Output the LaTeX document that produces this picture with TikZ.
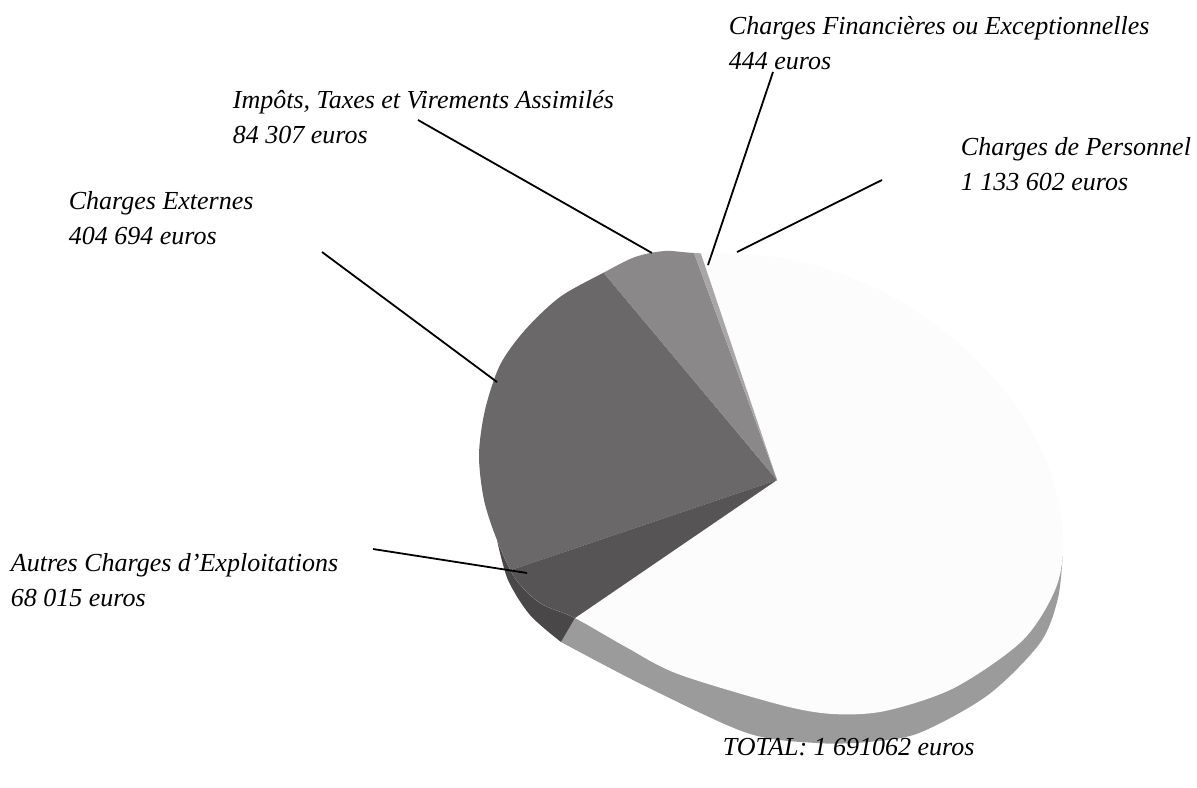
\documentclass[tikz,border=0pt]{standalone}
\usepackage{fontspec}
\setmainfont{Liberation Serif}
\usetikzlibrary{calc}
\definecolor{ext}{HTML}{6B686A}
\definecolor{imp}{HTML}{8A8889}
\definecolor{fin}{HTML}{A8A6A7}
\definecolor{aut}{HTML}{575456}
\definecolor{pers}{HTML}{FCFCFC}
\definecolor{side}{HTML}{9C9B9C}
\tikzset{lbl/.style={anchor=west, align=left, inner sep=0pt, font=\itshape\fontsize{13}{17.5}\selectfont}}

\begin{document}
\begin{tikzpicture}[x=0.5pt, y=-0.5pt, line width=0.9pt]
	\useasboundingbox (0,0) rectangle (1197,787);
	\coordinate (c) at (777,480);
	\coordinate (e1) at (505,572);
	\coordinate (e2) at (603,272);
	\coordinate (e3) at (694,253);
	\coordinate (e4) at (701,254);
	\coordinate (e5) at (575,618);
	
	% side of the pie
	\fill[side] (575,618) -- plot[smooth] coordinates {(561,642) (643,685) (747,733) (816,743) (868,742) (919,733) (988,695) (1040,643) (1058,598) (1063,550)} -- cycle;
	\fill[aut!85!black] plot[smooth] coordinates {(497,540) (508,580) (530,615) (561,642)} -- (575,618) -- cycle;
	
	% top of the pie
	\begin{scope}
		\clip plot[smooth cycle] coordinates {(694,253) (665,251) (635,257) (603,273) (560,297) (525,330) (500,365) (485,410) (479,455) (484,500) (497,540) (515,578) (540,603) (575,618) (626,647) (678,674) (781,705) (833,714) (885,711) (954,688) (1023,640) (1057,585) (1063,530) (1048,465) (1012,400) (955,340) (880,290) (790,259)};
		\fill[pers] (0,0) rectangle (1197,787);
		\fill[ext] (c) -- ($(c)!2!(e1)$) -- ($(c)!2!(e2)$) -- cycle;
		\fill[imp] (c) -- ($(c)!2!(e2)$) -- ($(c)!2!(e3)$) -- cycle;
		\fill[fin] (c) -- ($(c)!2!(e3)$) -- ($(c)!2!(e4)$) -- cycle;
		\fill[aut] (c) -- ($(c)!2!(e5)$) -- ($(c)!2!(e1)$) -- cycle;
	\end{scope}
	
	\node[lbl] (imp) at (232,117.5) {Impôts, Taxes et Virements Assimilés\\84 307 euros};
	\node[lbl] (fin) at (728,43.5) {Charges Financières ou Exceptionnelles\\444 euros};
	\node[lbl] (pers) at (960,164.5) {Charges de Personnel\\1 133 602 euros};
	\node[lbl] (ext) at (68,218) {Charges Externes\\404 694 euros};
	\node[lbl] (aut) at (10,580.5) {Autres Charges d’Exploitations\\68 015 euros};
	\node[lbl] (total) at (722,747) {TOTAL: 1 691062 euros};
	
	\coordinate (impA) at (418,120);  \coordinate (impB) at (652,253);
	\coordinate (finA) at (773,72);   \coordinate (finB) at (708,265);
	\coordinate (persA) at (882,180); \coordinate (persB) at (737,252);
	\coordinate (extA) at (322,252);  \coordinate (extB) at (497,382);
	\coordinate (autA) at (373,549);  \coordinate (autB) at (527,573);
	\foreach \a/\b in {impA/impB, finA/finB, persA/persB, extA/extB, autA/autB}{
		\draw (\a) -- (\b);
	}
\end{tikzpicture}
\end{document}
